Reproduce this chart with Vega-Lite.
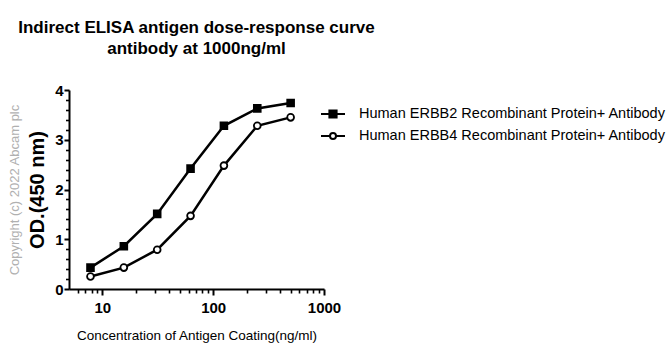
{
  "$schema": "https://vega.github.io/schema/vega-lite/v6.json",
  "width": 255,
  "height": 199,
  "autosize": "none",
  "padding": {"left": 69, "top": 90, "right": 344, "bottom": 67},
  "background": "white",
  "title": {
    "text": ["Indirect ELISA antigen dose-response curve", "antibody at 1000ng/ml"],
    "font": "Liberation Sans",
    "fontSize": 17,
    "fontWeight": "bold",
    "color": "black",
    "anchor": "middle",
    "lineHeight": 21,
    "offset": 25
  },
  "data": {
    "values": [
      {"conc": 7.8125, "od": 0.43, "series": "Human ERBB2 Recombinant Protein+ Antibody"},
      {"conc": 15.625, "od": 0.86, "series": "Human ERBB2 Recombinant Protein+ Antibody"},
      {"conc": 31.25, "od": 1.51, "series": "Human ERBB2 Recombinant Protein+ Antibody"},
      {"conc": 62.5, "od": 2.42, "series": "Human ERBB2 Recombinant Protein+ Antibody"},
      {"conc": 125, "od": 3.28, "series": "Human ERBB2 Recombinant Protein+ Antibody"},
      {"conc": 250, "od": 3.63, "series": "Human ERBB2 Recombinant Protein+ Antibody"},
      {"conc": 500, "od": 3.74, "series": "Human ERBB2 Recombinant Protein+ Antibody"},
      {"conc": 7.8125, "od": 0.25, "series": "Human ERBB4 Recombinant Protein+ Antibody"},
      {"conc": 15.625, "od": 0.43, "series": "Human ERBB4 Recombinant Protein+ Antibody"},
      {"conc": 31.25, "od": 0.79, "series": "Human ERBB4 Recombinant Protein+ Antibody"},
      {"conc": 62.5, "od": 1.47, "series": "Human ERBB4 Recombinant Protein+ Antibody"},
      {"conc": 125, "od": 2.48, "series": "Human ERBB4 Recombinant Protein+ Antibody"},
      {"conc": 250, "od": 3.28, "series": "Human ERBB4 Recombinant Protein+ Antibody"},
      {"conc": 500, "od": 3.45, "series": "Human ERBB4 Recombinant Protein+ Antibody"}
    ]
  },
  "layer": [
    {
      "mark": {"type": "line", "color": "black", "strokeWidth": 2.5},
      "encoding": {
        "x": {
          "field": "conc", "type": "quantitative",
          "scale": {"type": "log", "domain": [5, 1000], "nice": false},
          "axis": {
            "orient": "bottom",
            "values": [10, 100, 1000], "format": "d",
            "labelFont": "Liberation Sans", "labelFontSize": 15, "labelFontWeight": "bold", "labelColor": "black",
            "labelPadding": 5, "labelFlush": false, "labelOverlap": false,
            "tickSize": 6, "tickWidth": 2, "tickColor": "black",
            "domainColor": "black", "domainWidth": 2, "grid": false,
            "title": "Concentration of Antigen Coating(ng/ml)",
            "titleFont": "Liberation Sans", "titleFontSize": 13.5, "titleFontWeight": "normal", "titleColor": "black",
            "titlePadding": 13
          }
        },
        "y": {
          "field": "od", "type": "quantitative",
          "scale": {"domain": [0, 4], "nice": false},
          "axis": {
            "orient": "left",
            "values": [0, 1, 2, 3, 4],
            "labelFont": "Liberation Sans", "labelFontSize": 15, "labelFontWeight": "bold", "labelColor": "black",
            "labelPadding": 1,
            "tickSize": 5, "tickWidth": 2, "tickColor": "black",
            "domainColor": "black", "domainWidth": 2, "grid": false,
            "title": "OD.(450 nm)",
            "titleFont": "Liberation Sans", "titleFontSize": 20, "titleFontWeight": "bold", "titleColor": "black",
            "titlePadding": 7
          }
        },
        "detail": {"field": "series", "type": "nominal"}
      }
    },
    {
      "mark": {"type": "point", "filled": true, "size": 46, "stroke": "black", "strokeWidth": 1.8, "opacity": 1},
      "encoding": {
        "x": {"field": "conc", "type": "quantitative", "axis": null},
        "y": {"field": "od", "type": "quantitative", "axis": null},
        "shape": {"field": "series", "type": "nominal", "scale": {"range": ["square", "circle"]}, "legend": null},
        "fill": {"field": "series", "type": "nominal", "scale": {"range": ["black", "white"]}, "legend": null}
      }
    },
    {
      "mark": {"type": "point", "opacity": 0},
      "encoding": {
        "x": {
          "field": "conc", "type": "quantitative",
          "axis": {
            "orient": "bottom",
            "values": [6, 7, 8, 9, 20, 30, 40, 50, 60, 70, 80, 90, 200, 300, 400, 500, 600, 700, 800, 900],
            "labels": false, "domain": false, "grid": false, "title": null,
            "tickSize": 4, "tickWidth": 1.6, "tickColor": "black"
          }
        },
        "y": {
          "field": "od", "type": "quantitative",
          "axis": {
            "orient": "left",
            "values": [0.2, 0.4, 0.6, 0.8, 1.2, 1.4, 1.6, 1.8, 2.2, 2.4, 2.6, 2.8, 3.2, 3.4, 3.6, 3.8],
            "labels": false, "domain": false, "grid": false, "title": null,
            "tickSize": 3.5, "tickWidth": 1.6, "tickColor": "black"
          }
        }
      }
    },
    {
      "mark": {"type": "point", "opacity": 0, "stroke": "black", "strokeWidth": 2},
      "encoding": {
        "y": {
          "field": "od", "type": "quantitative",
          "axis": {
            "orient": "left",
            "title": "Copyright (c) 2022 Abcam plc",
            "titleFont": "Liberation Sans", "titleFontSize": 13, "titleFontWeight": "normal", "titleColor": "#b0b0b0",
            "labels": false, "ticks": false, "domain": false, "grid": false,
            "offset": 48, "titlePadding": 0
          }
        },
        "shape": {
          "field": "series", "type": "nominal",
          "scale": {"range": [
            "M-1,0H1M-0.3,-0.3H0.3V0.3H-0.3ZM-0.3,-0.15H0.3M-0.3,0.15H0.3",
            "M-1,0H-0.25M0.25,0H1M-0.25,0A0.25,0.25,0,1,1,0.25,0A0.25,0.25,0,1,1,-0.25,0Z"
          ]},
          "legend": {
            "orient": "none", "legendX": 251, "legendY": 11,
            "title": null, "padding": 0, "rowPadding": 1,
            "symbolSize": 576, "symbolStrokeWidth": 2, "symbolStrokeColor": "black", "symbolFillColor": "white", "symbolOpacity": 1,
            "labelFont": "Liberation Sans", "labelFontSize": 14.5, "labelColor": "black", "labelLimit": 400, "labelOffset": 13
          }
        }
      }
    }
  ],
  "resolve": {
    "scale": {"shape": "independent"},
    "axis": {"x": "independent", "y": "independent"}
  },
  "config": {
    "view": {"stroke": null},
    "font": "Liberation Sans"
  }
}
